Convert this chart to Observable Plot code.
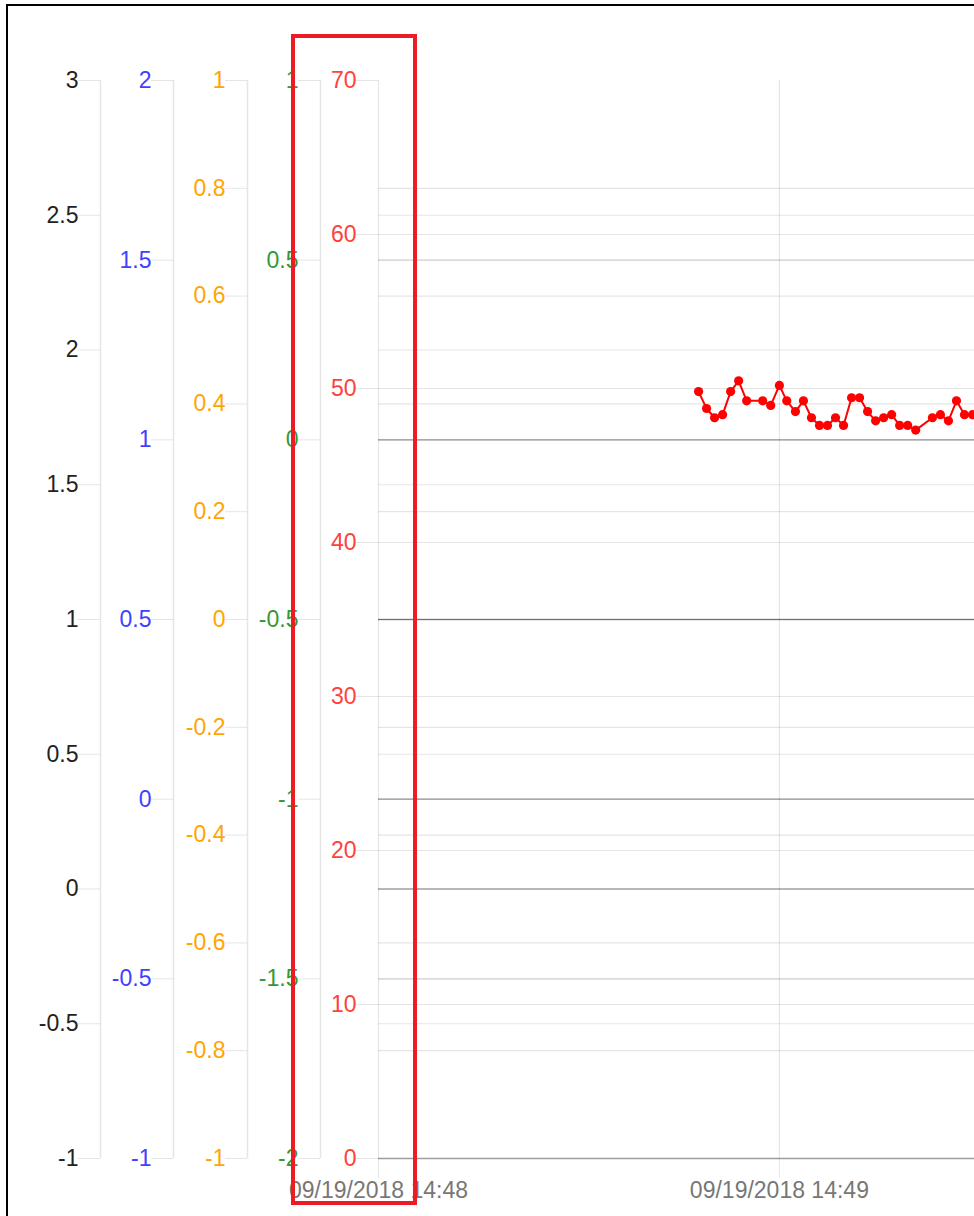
<!DOCTYPE html>
<html><head><meta charset="utf-8">
<script src="https://cdn.jsdelivr.net/npm/d3@7"></script>
<script src="https://cdn.jsdelivr.net/npm/@observablehq/plot@0.6"></script>
<style>
html,body{margin:0;padding:0;background:#fff;}
#wrap{position:relative;width:974px;height:1216px;overflow:hidden;}
#chart svg{display:block;}
#frame{position:absolute;left:6px;top:4px;right:-10px;bottom:-10px;border-left:2px solid #000;border-top:2px solid #000;pointer-events:none;}
#hl{position:absolute;left:291px;top:34px;width:126px;height:1171px;border:4px solid #ed1c24;box-sizing:border-box;pointer-events:none;}
</style></head><body>
<div id="wrap"><div id="chart"></div><div id="frame"></div><div id="hl"></div></div>
<script>
// ---- data ----
const times = [
  "2018-09-19T14:48:47.9Z","2018-09-19T14:48:49.1Z","2018-09-19T14:48:50.3Z","2018-09-19T14:48:51.5Z",
  "2018-09-19T14:48:52.7Z","2018-09-19T14:48:53.9Z","2018-09-19T14:48:55.1Z","2018-09-19T14:48:57.5Z",
  "2018-09-19T14:48:58.7Z","2018-09-19T14:49:00.0Z","2018-09-19T14:49:01.1Z","2018-09-19T14:49:02.4Z",
  "2018-09-19T14:49:03.6Z","2018-09-19T14:49:04.8Z","2018-09-19T14:49:06.0Z","2018-09-19T14:49:07.2Z",
  "2018-09-19T14:49:08.4Z","2018-09-19T14:49:09.6Z","2018-09-19T14:49:10.8Z","2018-09-19T14:49:12.0Z",
  "2018-09-19T14:49:13.2Z","2018-09-19T14:49:14.4Z","2018-09-19T14:49:15.6Z","2018-09-19T14:49:16.8Z",
  "2018-09-19T14:49:18.0Z","2018-09-19T14:49:19.2Z","2018-09-19T14:49:20.4Z","2018-09-19T14:49:22.9Z",
  "2018-09-19T14:49:24.1Z","2018-09-19T14:49:25.3Z","2018-09-19T14:49:26.5Z","2018-09-19T14:49:27.7Z",
  "2018-09-19T14:49:28.9Z"
];
const values = [
  49.8, 48.7, 48.1, 48.3, 49.8, 50.5, 49.2, 49.2, 48.9, 50.2, 49.2, 48.5, 49.2, 48.1, 47.6, 47.6,
  48.1, 47.6, 49.4, 49.4, 48.5, 47.9, 48.1, 48.3, 47.6, 47.6, 47.3, 48.1, 48.3, 47.9, 49.2, 48.3, 48.3
];
const xDomain = ["2018-09-19T14:48:00Z", "2018-09-19T14:49:29.2Z"];
const xTickTimes = ["2018-09-19T14:48:00Z", "2018-09-19T14:49:00Z"];
const xTickLabels = ["09/19/2018 14:48", "09/19/2018 14:49"];

const blackDomain = [-1, 3];
const blackTicks = [-1, -0.5, 0, 0.5, 1, 1.5, 2, 2.5, 3];
const blueDomain = [-1, 2];
const blueTicks = [-1, -0.5, 0, 0.5, 1, 1.5, 2];
const orangeDomain = [-1, 1];
const orangeTicks = [-1, -0.8, -0.6, -0.4, -0.2, 0, 0.2, 0.4, 0.6, 0.8, 1];
const greenDomain = [-2, 1];
const greenTicks = [-2, -1.5, -1, -0.5, 0, 0.5, 1];
const redDomain = [0, 70];
const redTicks = [0, 10, 20, 30, 40, 50, 60, 70];

// ---- build ----
const data = times.map((t, i) => ({time: new Date(t), value: values[i]}));
const xStart = new Date(xDomain[0]);
const FONT = "'Liberation Sans', Arial, sans-serif";

const axes = [
  {domain: blackDomain, ticks: blackTicks, color: "#222222", dx: -278},
  {domain: blueDomain, ticks: blueTicks, color: "#4040ff", dx: -205},
  {domain: orangeDomain, ticks: orangeTicks, color: "#ffa500", dx: -131},
  {domain: greenDomain, ticks: greenTicks, color: "#339933", dx: -58},
  {domain: redDomain, ticks: redTicks, color: "#ff4040", dx: 0}
];
const toRed = (dom) => (v) => (v - dom[0]) / (dom[1] - dom[0]) * (redDomain[1] - redDomain[0]) + redDomain[0];
const fromRed = (dom) => (r) => (r - redDomain[0]) / (redDomain[1] - redDomain[0]) * (dom[1] - dom[0]) + dom[0];
const fmt = (v) => String(+(+v).toFixed(3));

const marks = [];
// gridlines from every axis (interior ticks, non-zero)
for (const a of axes) {
  const f = toRed(a.domain);
  const inner = a.ticks.filter(t => t !== 0 && t !== a.domain[0] && t !== a.domain[1]);
  marks.push(Plot.gridY(inner.map(f), {stroke: "#000", strokeOpacity: 0.1, strokeWidth: 1.2}));
}
// vertical x gridlines
marks.push(Plot.gridX(xTickTimes.map(t => new Date(t)), {stroke: "#000", strokeOpacity: 0.1, strokeWidth: 1.2}));
// baselines (zero of each axis)
for (const a of axes) {
  const f = toRed(a.domain);
  if (a.domain[0] <= 0 && a.domain[1] >= 0) marks.push(Plot.ruleY([f(0)], {stroke: "#000", strokeOpacity: 0.38, strokeWidth: 1.3}));
}
// axis lines + axes
for (const a of axes) {
  const f = toRed(a.domain), g = fromRed(a.domain);
  if (a.dx !== 0) marks.push(Plot.ruleX([xStart], {y1: redDomain[0], y2: redDomain[1], dx: a.dx, stroke: "#000", strokeOpacity: 0.1, strokeWidth: 1.5}));
  marks.push(Plot.axisY(a.ticks.map(f), {
    anchor: "left", dx: a.dx, tickSize: 22, tickPadding: 0,
    stroke: "#000", strokeOpacity: 0.1, fill: a.color,
    tickFormat: (d) => fmt(g(d)), label: null, fontSize: 23
  }));
}
marks.push(Plot.axisX(xTickTimes.map(t => new Date(t)), {
  anchor: "bottom", tickSize: 20, tickPadding: 3, stroke: "#000", strokeOpacity: 0.1, fill: "#777",
  tickFormat: (d) => xTickLabels[xTickTimes.findIndex(t => +new Date(t) === +d)], label: null, fontSize: 23
}));
// data
marks.push(Plot.line(data, {x: "time", y: "value", stroke: "#ff0000", strokeWidth: 2}));
marks.push(Plot.dot(data, {x: "time", y: "value", fill: "#ff0000", r: 4.6}));

const chart = Plot.plot({
  width: 974, height: 1216,
  marginLeft: 378, marginRight: 0, marginTop: 80, marginBottom: 58,
  style: {fontFamily: FONT, fontSize: "23px", background: "#fff", overflow: "hidden"},
  x: {type: "utc", domain: xDomain.map(d => new Date(d))},
  y: {domain: redDomain},
  marks
});
document.getElementById("chart").appendChild(chart);
</script>
</body></html>
